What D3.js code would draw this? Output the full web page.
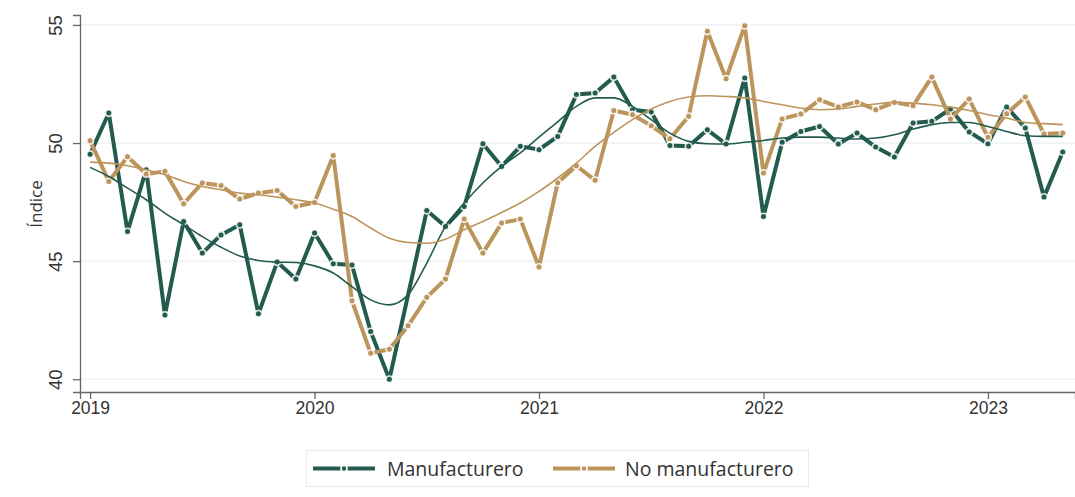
<!DOCTYPE html>
<html>
<head>
<meta charset="utf-8">
<script src="https://cdn.jsdelivr.net/npm/d3@7"></script>
<style>
  html, body { margin: 0; padding: 0; background: #fff; }
  svg { display: block; font-family: "Open Sans", "Noto Sans", sans-serif; }
</style>
</head>
<body>
<svg id="chart" width="1075" height="497"></svg>
<script>
// ---- data (monthly, Jan 2019 – May 2023) ----
const startYear = 2019;
const manufacturero = [
  49.53, 51.27, 46.25, 48.87, 42.72, 46.68, 45.34, 46.11, 46.54, 42.77, 44.96, 44.24,
  46.19, 44.89, 44.84, 42.02, 40.00, null, 47.14, 46.47, 47.31, 49.97, 49.01, 49.86,
  49.72, 50.28, 52.05, 52.12, 52.79, 51.41, 51.31, 49.90, 49.86, 50.56, 49.96, 52.75,
  46.89, 50.03, 50.49, 50.70, 49.96, 50.42, 49.83, 49.41, 50.85, 50.92, 51.44, 50.47,
  49.97, 51.53, 50.64, 47.71, 49.62
];
const noManufacturero = [
  50.10, 48.37, 49.42, 48.69, 48.80, 47.43, 48.31, 48.20, 47.63, 47.88, 47.99, 47.31,
  47.48, 49.47, 43.32, 41.10, 41.27, 42.26, 43.47, 44.24, 46.78, 45.34, 46.61, 46.78,
  44.75, 48.32, 49.04, 48.42, 51.38, 51.20, 50.73, 50.18, 51.13, 54.73, 52.72, 54.97,
  48.73, 51.02, 51.23, 51.83, 51.53, 51.74, 51.41, 51.72, 51.58, 52.79, 51.02, 51.86,
  50.24, 51.24, 51.95, 50.38, 50.42
];
const tendenciaManufacturero = [
  48.97, 48.58, 48.09, 47.60, 47.03, 46.54, 46.04, 45.59, 45.22, 45.03, 44.96, 44.94,
  44.80, 44.50, 43.92, 43.36, 43.15, 43.57, 44.92, 46.47, 47.46, 48.31, 49.01, 49.58,
  50.25, 50.90, 51.55, 51.91, 51.91, 51.55, 50.99, 50.42, 50.07, 49.97, 49.96, 50.03,
  50.11, 50.21, 50.25, 50.25, 50.21, 50.17, 50.21, 50.35, 50.59, 50.78, 50.87, 50.87,
  50.70, 50.49, 50.31, 50.28, 50.28
];
const tendenciaNoManufacturero = [
  49.19, 49.15, 49.04, 48.87, 48.66, 48.37, 48.16, 48.02, 47.88, 47.81, 47.71, 47.60,
  47.46, 47.20, 46.89, 46.40, 45.97, 45.79, 45.76, 45.93, 46.33, 46.68, 47.06, 47.46,
  47.95, 48.52, 49.15, 49.86, 50.45, 50.99, 51.44, 51.76, 51.95, 52.00, 51.97, 51.91,
  51.76, 51.62, 51.48, 51.41, 51.44, 51.55, 51.65, 51.72, 51.69, 51.62, 51.52, 51.38,
  51.20, 51.06, 50.87, 50.82, 50.78
];
const yTicks = [40, 45, 50, 55];
const xTicks = [2019, 2020, 2021, 2022, 2023];
const seriesNames = ["Manufacturero", "No manufacturero"];
const yLabel = "Índice";

// ---- styles ----
const GREEN = "#235B4E";
const GOLD = "#BC955C";
const GRID = "#e8f0f2";
const AXIS = "#666";
const TEXT = "#333";

const svg = d3.select("#chart");

const x = d3.scaleLinear()
  .domain([2018.955, 2023.388])
  .range([80, 1075]);
const y = d3.scaleLinear()
  .domain([39.46, 55.42])
  .range([392, 15]);

const t = i => startYear + i / 12;

// gridlines
svg.append("g")
  .selectAll("line")
  .data(yTicks)
  .join("line")
  .attr("x1", 81).attr("x2", 1075)
  .attr("y1", d => y(d)).attr("y2", d => y(d))
  .attr("stroke", GRID).attr("stroke-width", 1.2);

// y axis
const yAxis = svg.append("g")
  .attr("transform", `translate(80,0)`)
  .call(d3.axisLeft(y).tickValues(yTicks).tickSize(7).tickPadding(0).tickFormat(d3.format("d")));
yAxis.select(".domain").attr("stroke", AXIS).attr("stroke-width", 1.3);
yAxis.selectAll(".tick line").attr("stroke", AXIS).attr("stroke-width", 1.3);
yAxis.selectAll(".tick text")
  .attr("x", 0).attr("dy", 0)
  .attr("transform", "translate(-25,0) rotate(-90)")
  .attr("text-anchor", "middle")
  .attr("dominant-baseline", "central")
  .attr("fill", TEXT)
  .style("font-size", "18.5px");

// x axis
const xAxis = svg.append("g")
  .attr("transform", `translate(0,392)`)
  .call(d3.axisBottom(x).tickValues(xTicks).tickSize(7).tickPadding(3).tickFormat(d3.format("d")));
xAxis.select(".domain").attr("stroke", AXIS).attr("stroke-width", 1.3);
xAxis.selectAll(".tick line").attr("stroke", AXIS).attr("stroke-width", 1.3);
xAxis.selectAll(".tick text").attr("fill", TEXT).style("font-size", "17.5px");

// y label
svg.append("text")
  .attr("transform", `translate(35,204) rotate(-90)`)
  .attr("text-anchor", "middle")
  .attr("dominant-baseline", "central")
  .attr("fill", TEXT)
  .style("font-size", "17px")
  .text(yLabel);

// lines
const line = d3.line()
  .defined(d => d.v != null)
  .x(d => x(d.t)).y(d => y(d.v));
const smooth = d3.line()
  .curve(d3.curveMonotoneX)
  .x(d => x(d.t)).y(d => y(d.v));

const toPts = arr => arr.map((v, i) => ({ t: t(i), v })).filter(d => d.v != null);

function drawMain(arr, color) {
  const pts = toPts(arr);
  svg.append("path").datum(pts)
    .attr("d", line)
    .attr("fill", "none").attr("stroke", color)
    .attr("stroke-width", 4).attr("stroke-linejoin", "round");
  svg.append("g").selectAll("circle").data(pts).join("circle")
    .attr("cx", d => x(d.t)).attr("cy", d => y(d.v))
    .attr("r", 3.3).attr("fill", color)
    .attr("stroke", "#fff").attr("stroke-opacity", 0.85).attr("stroke-width", 1.6);
}
drawMain(manufacturero, GREEN);
drawMain(noManufacturero, GOLD);

function drawTrend(arr, color) {
  svg.append("path").datum(toPts(arr))
    .attr("d", smooth)
    .attr("fill", "none").attr("stroke", color).attr("stroke-width", 1.6);
}
drawTrend(tendenciaManufacturero, GREEN);
drawTrend(tendenciaNoManufacturero, GOLD);

// legend
const lg = svg.append("g");
lg.append("rect")
  .attr("x", 306.5).attr("y", 450.5).attr("width", 502).attr("height", 36)
  .attr("fill", "#fff").attr("stroke", "#e6ecee").attr("stroke-width", 1);
const legendItems = [
  { name: seriesNames[0], color: GREEN, x0: 313, tx: 387 },
  { name: seriesNames[1], color: GOLD, x0: 553, tx: 625 }
];
legendItems.forEach(it => {
  lg.append("line")
    .attr("x1", it.x0).attr("x2", it.x0 + 62)
    .attr("y1", 468.5).attr("y2", 468.5)
    .attr("stroke", it.color).attr("stroke-width", 4);
  lg.append("circle")
    .attr("cx", it.x0 + 31).attr("cy", 468.5).attr("r", 3)
    .attr("fill", it.color).attr("stroke", "#fff").attr("stroke-width", 1.5);
  lg.append("text")
    .attr("x", it.tx).attr("y", 468.5)
    .attr("dominant-baseline", "central")
    .attr("fill", TEXT)
    .style("font-size", "19.5px")
    .text(it.name);
});
</script>
</body>
</html>
